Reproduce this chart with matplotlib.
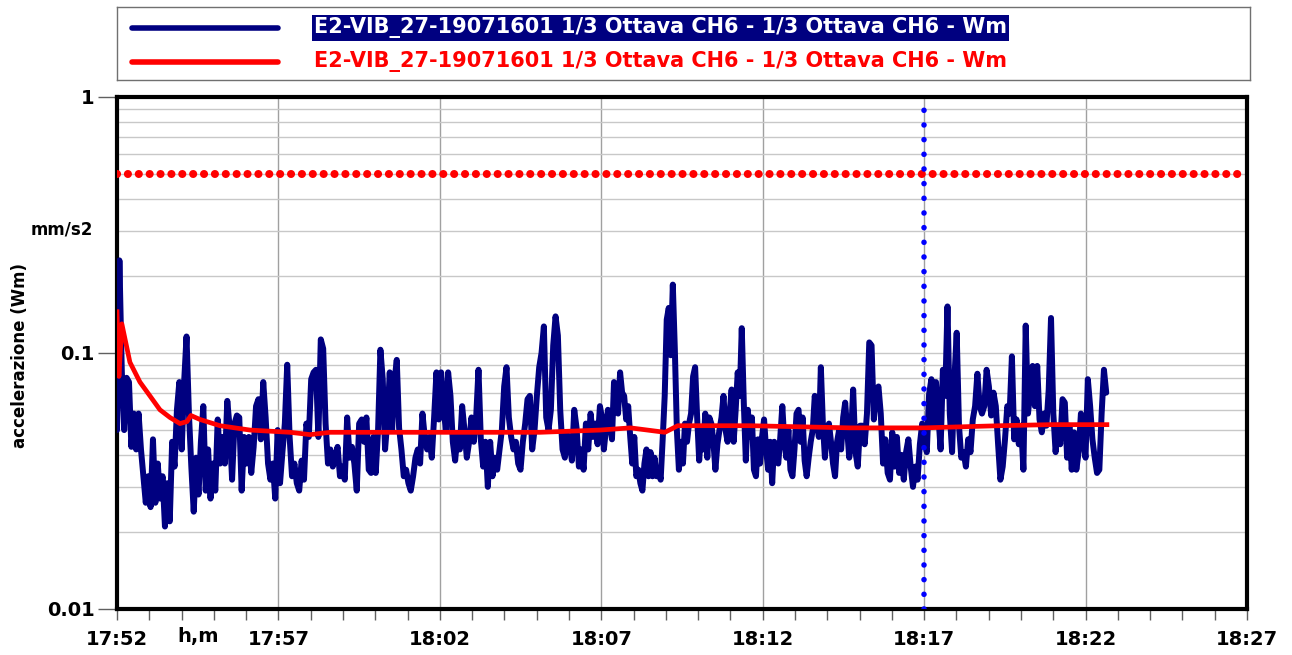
import numpy as np
import matplotlib
matplotlib.use('Agg')
import matplotlib.pyplot as plt
from matplotlib.ticker import FixedLocator, FuncFormatter, LogLocator, NullFormatter

plt.rcParams['font.family'] = ['DejaVu Sans']
plt.rcParams['font.weight'] = 'bold'

# minutes after 17:52
T0_H, T0_M = 17, 52

# blue series: Wm 1/3 ottava CH6, read in four consecutive stretches
seg1_t = (0.0, 7.50)
seg1 = [0.05, 0.23, 0.085, 0.05, 0.08, 0.077, 0.043, 0.058, 0.042, 0.058, 0.042, 0.033, 0.026, 0.033,
        0.025, 0.046, 0.026, 0.037, 0.027, 0.033, 0.021, 0.031, 0.022, 0.045, 0.036, 0.06, 0.077, 0.042,
        0.077, 0.116, 0.058, 0.036, 0.024, 0.039, 0.028, 0.045, 0.062, 0.029, 0.042, 0.027, 0.037, 0.029,
        0.055, 0.037, 0.047, 0.037, 0.065, 0.051, 0.032, 0.053, 0.057, 0.056, 0.029, 0.047, 0.037, 0.047,
        0.034, 0.043, 0.062, 0.066, 0.046, 0.077, 0.056, 0.037, 0.032, 0.037, 0.027, 0.05, 0.031, 0.041,
        0.053, 0.09, 0.047, 0.033, 0.037, 0.031, 0.029, 0.038, 0.032, 0.053, 0.047, 0.079, 0.084, 0.086,
        0.047, 0.113, 0.104, 0.053, 0.037, 0.042, 0.036, 0.039, 0.043, 0.033, 0.036, 0.032, 0.056, 0.039,
        0.043, 0.037, 0.029, 0.053]
seg2_t = (7.58, 15.03)
seg2 = [0.055, 0.045, 0.056, 0.035, 0.034, 0.047, 0.034, 0.05, 0.103, 0.079, 0.042, 0.055, 0.084, 0.05,
        0.077, 0.094, 0.051, 0.042, 0.033, 0.035, 0.031, 0.029, 0.033, 0.039, 0.042, 0.037, 0.058, 0.047,
        0.042, 0.047, 0.039, 0.056, 0.084, 0.055, 0.084, 0.062, 0.05, 0.084, 0.068, 0.045, 0.038, 0.048,
        0.042, 0.062, 0.05, 0.039, 0.045, 0.056, 0.045, 0.056, 0.086, 0.046, 0.036, 0.045, 0.03, 0.045,
        0.033, 0.039, 0.035, 0.042, 0.05, 0.074, 0.088, 0.056, 0.047, 0.042, 0.045, 0.037, 0.035, 0.045,
        0.053, 0.066, 0.068, 0.042, 0.05, 0.068, 0.088, 0.1, 0.127, 0.056, 0.05, 0.06, 0.107, 0.139,
        0.117, 0.06, 0.042, 0.039, 0.048, 0.045, 0.038, 0.06, 0.051, 0.036, 0.042, 0.035, 0.053, 0.042,
        0.058, 0.047, 0.053, 0.044, 0.062, 0.055]
seg3_t = (15.08, 22.68)
seg3 = [0.042, 0.05, 0.06, 0.053, 0.046, 0.077, 0.068, 0.058, 0.084, 0.07, 0.068, 0.055, 0.062, 0.047,
        0.037, 0.047, 0.033, 0.035, 0.031, 0.029, 0.037, 0.042, 0.033, 0.041, 0.033, 0.039, 0.033, 0.035,
        0.032, 0.046, 0.068, 0.135, 0.15, 0.098, 0.185, 0.103, 0.05, 0.035, 0.045, 0.037, 0.053, 0.045,
        0.053, 0.058, 0.081, 0.088, 0.056, 0.038, 0.05, 0.042, 0.058, 0.039, 0.056, 0.053, 0.045, 0.035,
        0.044, 0.05, 0.056, 0.068, 0.05, 0.045, 0.058, 0.072, 0.045, 0.06, 0.084, 0.068, 0.125, 0.064,
        0.038, 0.06, 0.047, 0.056, 0.035, 0.033, 0.046, 0.037, 0.047, 0.055, 0.042, 0.035, 0.045, 0.031,
        0.045, 0.039, 0.037, 0.047, 0.062, 0.045, 0.039, 0.05, 0.035, 0.033, 0.042, 0.058, 0.06, 0.045,
        0.056, 0.038, 0.033, 0.039, 0.045, 0.05, 0.068, 0.056, 0.047, 0.088, 0.053, 0.039, 0.05, 0.053,
        0.045, 0.037, 0.033, 0.045, 0.05, 0.042, 0.056, 0.064, 0.05, 0.039]
seg4_t = (22.73, 30.64)
seg4 = [0.046, 0.072, 0.041, 0.036, 0.052, 0.052, 0.044, 0.058, 0.11, 0.107, 0.055, 0.07, 0.074, 0.058,
        0.037, 0.046, 0.034, 0.032, 0.049, 0.036, 0.047, 0.034, 0.04, 0.032, 0.041, 0.046, 0.036, 0.03,
        0.036, 0.032, 0.044, 0.053, 0.046, 0.041, 0.069, 0.079, 0.052, 0.077, 0.058, 0.042, 0.086, 0.068,
        0.152, 0.058, 0.041, 0.079, 0.12, 0.052, 0.039, 0.041, 0.036, 0.046, 0.041, 0.055, 0.062, 0.083,
        0.062, 0.058, 0.062, 0.086, 0.074, 0.057, 0.07, 0.062, 0.044, 0.032, 0.036, 0.046, 0.062, 0.058,
        0.097, 0.046, 0.055, 0.044, 0.052, 0.035, 0.128, 0.058, 0.072, 0.089, 0.062, 0.089, 0.055, 0.049,
        0.058, 0.052, 0.072, 0.137, 0.058, 0.041, 0.052, 0.044, 0.066, 0.064, 0.039, 0.052, 0.035, 0.049,
        0.035, 0.041, 0.058, 0.046, 0.039, 0.079, 0.062, 0.046, 0.039, 0.034, 0.035, 0.058, 0.086, 0.07]

# red series: running Wm
red_t = [0.0, 0.06, 0.15, 0.40, 0.71, 1.02, 1.33, 1.64, 1.95, 2.17, 2.29, 2.57, 3.19, 4.12, 5.36, 5.98,
         6.6, 7.53, 10.0, 13.1, 14.96, 15.9, 16.97, 17.37, 19.6, 22.7, 25.0, 27.35, 28.9, 30.66]
red_v = [0.145, 0.081, 0.13, 0.092, 0.077, 0.068, 0.06, 0.056, 0.053, 0.054, 0.057, 0.055, 0.052, 0.05,
         0.049, 0.048, 0.049, 0.049, 0.049, 0.049, 0.05, 0.051, 0.049, 0.052, 0.052, 0.051, 0.051, 0.052,
         0.0525, 0.0525]

limit_value = 0.5      # red dotted threshold
cursor_min = 25        # blue dotted cursor at 18:17

legend_label = 'E2-VIB_27-19071601 1/3 Ottava CH6 - 1/3 Ottava CH6 - Wm'

blue_t = np.concatenate([np.linspace(a, b, len(s)) for (a, b), s in
                         [(seg1_t, seg1), (seg2_t, seg2), (seg3_t, seg3), (seg4_t, seg4)]])
blue_v = np.concatenate([seg1, seg2, seg3, seg4])

fig = plt.figure(figsize=(12.92, 6.55), dpi=100)
ax = fig.add_axes([117/1292, 1-609/655, 1130/1292, 512/655])

ax.set_yscale('log')
ax.set_ylim(0.01, 1)
ax.set_xlim(0, 35)

ax.yaxis.set_major_locator(FixedLocator([0.01, 0.1, 1]))
ax.yaxis.set_major_formatter(FuncFormatter(lambda v, p: '%g' % v))
ax.yaxis.set_minor_locator(LogLocator(base=10, subs=np.arange(2, 10)))
ax.yaxis.set_minor_formatter(NullFormatter())

def hm(m, pos=None):
    tot = T0_H*60 + T0_M + int(round(m))
    return '%d:%02d' % (tot//60, tot % 60)

ax.xaxis.set_major_locator(FixedLocator(np.arange(0, 36, 5)))
ax.xaxis.set_major_formatter(FuncFormatter(hm))
ax.xaxis.set_minor_locator(FixedLocator(np.arange(0, 36, 1)))

ax.grid(True, which='major', axis='x', color='#a0a0a0', lw=1)
ax.grid(True, which='both', axis='y', color='#c8c8c8', lw=1)
ax.set_axisbelow(True)

ax.tick_params(axis='y', which='major', length=14, width=1, color='#606060', labelsize=14, pad=2)
ax.tick_params(axis='y', which='minor', length=0)
ax.tick_params(axis='x', which='major', length=8, width=1, color='#606060', labelsize=14, pad=7)
ax.tick_params(axis='x', which='minor', length=8, width=1, color='#606060')
for lab in ax.get_xticklabels() + ax.get_yticklabels():
    lab.set_fontweight('bold')

for sp in ax.spines.values():
    sp.set_linewidth(3)
    sp.set_color('black')

ax.plot(blue_t, blue_v, color='#000080', lw=4.3, solid_joinstyle='round', solid_capstyle='round', zorder=3)
ax.plot(red_t, red_v, color='#ff0000', lw=3.4, solid_joinstyle='round', zorder=4)

ax.axhline(limit_value, color='#ff0000', lw=5.8, ls=(0, (0.01, 1.34)), dash_capstyle='round', zorder=5)
ax.axvline(cursor_min, color='#0000ff', lw=4, ls=(0, (0.01, 2.63)), dash_capstyle='round', zorder=5)

ax.text(2.5, -0.054, 'h,m', transform=ax.get_xaxis_transform(), ha='center', va='center',
        fontsize=14, fontweight='bold')
fig.text(62/1292, 1-230/655, 'mm/s2', ha='center', va='center', fontsize=12, fontweight='bold')
fig.text(20/1292, 1-355/655, 'accelerazione (Wm)', rotation=90, ha='center', va='center',
         fontsize=12, fontweight='bold')

# legend box
lg = fig.add_axes([117/1292, 1-80/655, 1133/1292, 73/655])
lg.set_xlim(0, 1133)
lg.set_ylim(73, 0)
lg.set_xticks([])
lg.set_yticks([])
for sp in lg.spines.values():
    sp.set_color('#707070')
    sp.set_linewidth(1)
lg.plot([15, 161], [21, 21], color='#000080', lw=4, solid_capstyle='round')
lg.plot([15, 161], [55, 55], color='#ff0000', lw=4, solid_capstyle='round')
lg.text(197, 21, legend_label, color='white', fontsize=15, fontweight='bold', va='center', ha='left',
        bbox=dict(facecolor='#000080', edgecolor='none', pad=1.5))
lg.text(197, 55, legend_label, color='#ff0000', fontsize=15, fontweight='bold', va='center', ha='left')

fig.savefig('out.png', dpi=100)
